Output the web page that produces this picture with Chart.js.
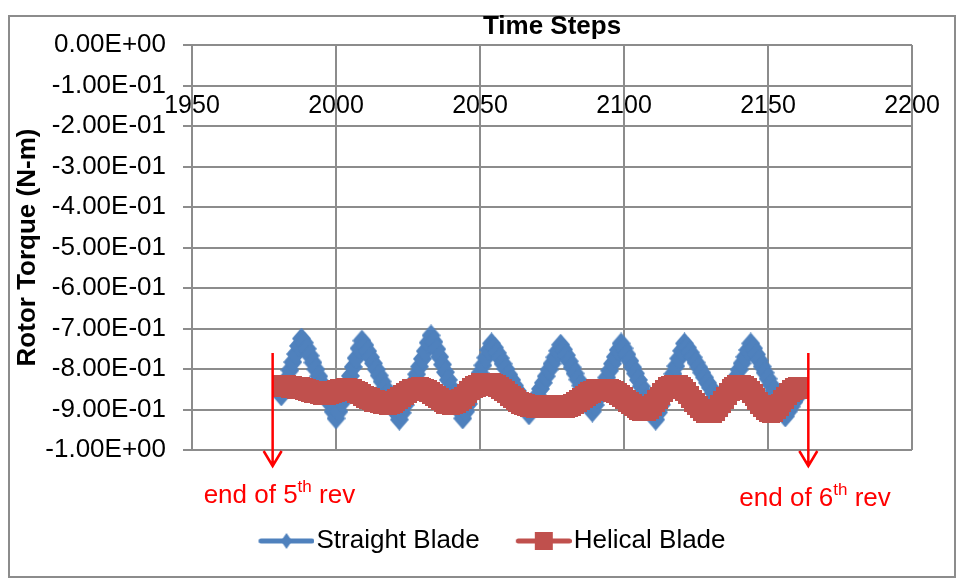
<!DOCTYPE html>
<html>
<head>
<meta charset="utf-8">
<title>Rotor Torque</title>
<script src="https://cdn.jsdelivr.net/npm/chart.js@4.4.1/dist/chart.umd.min.js"></script>
<style>
  html, body { margin: 0; padding: 0; background: #fff; }
  #wrap { position: relative; width: 963px; height: 580px; }
  #frame { position: absolute; left: 8px; top: 15px; width: 948px; height: 563px; border: 2px solid #8c8c8c; box-sizing: border-box; }
  #torqueChart { position: absolute; left: 0; top: 0; }
</style>
</head>
<body>
<div id="wrap">
  <div id="frame"></div>
  <canvas id="torqueChart" width="963" height="580"></canvas>
</div>
<script>
// time step of the first sample in both series
const firstStep = 1981;

// rotor torque per time step (N-m)
const straightBlade = [
  -0.865, -0.845, -0.824, -0.803, -0.783, -0.763, -0.743, -0.725, -0.735, -0.750,
  -0.767, -0.784, -0.801, -0.818, -0.835, -0.852, -0.869, -0.886, -0.905, -0.922,
  -0.905, -0.883, -0.861, -0.839, -0.817, -0.795, -0.773, -0.749, -0.730, -0.741,
  -0.756, -0.771, -0.786, -0.801, -0.816, -0.831, -0.846, -0.861, -0.876, -0.892,
  -0.909, -0.925, -0.908, -0.889, -0.870, -0.851, -0.832, -0.813, -0.794, -0.775,
  -0.756, -0.735, -0.717, -0.733, -0.751, -0.770, -0.789, -0.808, -0.827, -0.846,
  -0.865, -0.884, -0.904, -0.922, -0.905, -0.886, -0.867, -0.848, -0.829, -0.810,
  -0.791, -0.772, -0.753, -0.737, -0.747, -0.760, -0.773, -0.787, -0.800, -0.814,
  -0.827, -0.841, -0.854, -0.868, -0.882, -0.897, -0.912, -0.897, -0.881, -0.865,
  -0.849, -0.834, -0.818, -0.802, -0.787, -0.771, -0.755, -0.740, -0.752, -0.766,
  -0.781, -0.796, -0.811, -0.826, -0.841, -0.856, -0.872, -0.889, -0.905, -0.889,
  -0.872, -0.855, -0.838, -0.821, -0.804, -0.787, -0.770, -0.753, -0.737, -0.749,
  -0.764, -0.780, -0.796, -0.811, -0.827, -0.843, -0.859, -0.875, -0.891, -0.908,
  -0.925, -0.907, -0.888, -0.869, -0.850, -0.831, -0.812, -0.793, -0.774, -0.755,
  -0.737, -0.747, -0.759, -0.771, -0.784, -0.796, -0.809, -0.821, -0.834, -0.846,
  -0.859, -0.872, -0.886, -0.900, -0.884, -0.868, -0.851, -0.835, -0.819, -0.802,
  -0.786, -0.770, -0.753, -0.737, -0.749, -0.764, -0.779, -0.794, -0.809, -0.824,
  -0.839, -0.854, -0.869, -0.885, -0.901, -0.917, -0.905, -0.893, -0.881, -0.870,
  -0.860
];

const helicalBlade = [
  -0.842, -0.842, -0.843, -0.844, -0.845, -0.846, -0.847, -0.848, -0.850, -0.852,
  -0.854, -0.856, -0.858, -0.860, -0.861, -0.862, -0.862, -0.860, -0.857, -0.854,
  -0.852, -0.851, -0.850, -0.850, -0.851, -0.853, -0.856, -0.860, -0.864, -0.868,
  -0.872, -0.875, -0.878, -0.880, -0.882, -0.884, -0.885, -0.886, -0.885, -0.882,
  -0.877, -0.871, -0.866, -0.861, -0.857, -0.853, -0.851, -0.849, -0.848, -0.849,
  -0.851, -0.855, -0.860, -0.865, -0.870, -0.875, -0.879, -0.883, -0.885, -0.886,
  -0.885, -0.882, -0.877, -0.871, -0.864, -0.857, -0.850, -0.845, -0.841, -0.838,
  -0.837, -0.836, -0.836, -0.837, -0.839, -0.842, -0.846, -0.851, -0.857, -0.863,
  -0.869, -0.875, -0.880, -0.884, -0.887, -0.889, -0.891, -0.892, -0.893, -0.894,
  -0.894, -0.893, -0.892, -0.891, -0.891, -0.892, -0.893, -0.894, -0.894, -0.893,
  -0.891, -0.888, -0.884, -0.879, -0.874, -0.869, -0.864, -0.860, -0.856, -0.853,
  -0.852, -0.851, -0.851, -0.852, -0.853, -0.855, -0.858, -0.862, -0.867, -0.872,
  -0.878, -0.884, -0.890, -0.895, -0.898, -0.900, -0.901, -0.900, -0.896, -0.889,
  -0.880, -0.871, -0.862, -0.854, -0.848, -0.844, -0.842, -0.841, -0.842, -0.846,
  -0.852, -0.860, -0.869, -0.878, -0.887, -0.895, -0.901, -0.905, -0.907, -0.907,
  -0.905, -0.900, -0.892, -0.882, -0.872, -0.862, -0.853, -0.846, -0.842, -0.841,
  -0.842, -0.845, -0.850, -0.857, -0.865, -0.874, -0.883, -0.891, -0.898, -0.903,
  -0.905, -0.903, -0.897, -0.889, -0.880, -0.871, -0.862, -0.855, -0.850, -0.847,
  -0.846
];

const timeTicks = [1950, 2000, 2050, 2100, 2150, 2200];
const torqueTicks = [-1, -0.9, -0.8, -0.7, -0.6, -0.5, -0.4, -0.3, -0.2, -0.1, 0];

// revolution boundaries marked with arrows below the plot
const revEnds = [1978, 2164];
const revNumbers = ['5', '6'];

const family = "'Liberation Sans', Arial, sans-serif";
const gridColor = '#8c8c8c';
const blue = '#4f81bd';
const red = '#c0504d';

Chart.defaults.font.family = family;
Chart.defaults.color = '#000';

// Excel style scientific labels: -1.00E-01
function sciLabel(v) {
  const parts = Number(v).toExponential(2).split('e');
  const exp = parseInt(parts[1], 10);
  return parts[0] + 'E' + (exp < 0 ? '-' : '+') + String(Math.abs(exp)).padStart(2, '0');
}

function toPoints(values) {
  return values.map((v, i) => ({ x: firstStep + i, y: v }));
}

function drawShape(c, shape, cx, cy, w, h) {
  c.beginPath();
  if (shape === 'diamond') {
    c.moveTo(cx, cy - h / 2);
    c.lineTo(cx + w / 2, cy);
    c.lineTo(cx, cy + h / 2);
    c.lineTo(cx - w / 2, cy);
    c.closePath();
  } else {
    c.rect(cx - w / 2, cy - h / 2, w, h);
  }
  c.fill();
}

// marker image used for every data point
function markerImage(shape, w, h, color) {
  const cv = document.createElement('canvas');
  cv.width = w;
  cv.height = h;
  const c = cv.getContext('2d');
  c.fillStyle = color;
  drawShape(c, shape, w / 2, h / 2, w, h);
  return cv;
}

// legend swatch: a short line with the marker in the middle
function legendSwatch(shape, w, h, color) {
  const cv = document.createElement('canvas');
  cv.width = 67;
  cv.height = 24;
  const c = cv.getContext('2d');
  c.strokeStyle = color;
  c.lineWidth = 5;
  c.lineCap = 'round';
  c.beginPath();
  c.moveTo(13.5, 12);
  c.lineTo(64.5, 12);
  c.stroke();
  c.fillStyle = color;
  drawShape(c, shape, 39, 12, w, h);
  return cv;
}

const revAnnotations = {
  id: 'revAnnotations',
  afterDraw(chart) {
    const { ctx } = chart;
    const xScale = chart.scales.x;
    ctx.save();
    ctx.strokeStyle = '#ff0000';
    ctx.fillStyle = '#ff0000';
    ctx.lineWidth = 2.5;
    revEnds.forEach((step, i) => {
      const px = xScale.getPixelForValue(step);
      ctx.beginPath();
      ctx.moveTo(px, 353);
      ctx.lineTo(px, 466);
      ctx.moveTo(px - 9, 451);
      ctx.lineTo(px, 466);
      ctx.lineTo(px + 9, 451);
      ctx.stroke();

      let tx = px - 69;
      const base = 503 + i * 3;
      ctx.textBaseline = 'alphabetic';
      ctx.textAlign = 'left';
      ctx.font = '26px ' + family;
      const head = 'end of ' + revNumbers[i];
      ctx.fillText(head, tx, base);
      tx += ctx.measureText(head).width;
      ctx.font = '17px ' + family;
      ctx.fillText('th', tx, base - 11);
      tx += ctx.measureText('th').width;
      ctx.font = '26px ' + family;
      ctx.fillText(' rev', tx, base);
    });
    ctx.restore();
  }
};

const datasets = [
  {
    label: 'Straight Blade',
    data: toPoints(straightBlade),
    borderColor: blue,
    backgroundColor: blue,
    borderWidth: 4,
    pointStyle: markerImage('diamond', 19, 22, blue),
    pointRadius: 11,
    legendSwatch: legendSwatch('diamond', 11, 16, blue),
    order: 1
  },
  {
    label: 'Helical Blade',
    data: toPoints(helicalBlade),
    borderColor: red,
    backgroundColor: red,
    borderWidth: 4,
    pointStyle: markerImage('rect', 18, 22, red),
    pointRadius: 11,
    legendSwatch: legendSwatch('rect', 18, 18, red),
    order: 0
  }
];

new Chart(document.getElementById('torqueChart'), {
  type: 'line',
  data: { datasets },
  plugins: [revAnnotations],
  options: {
    responsive: false,
    animation: false,
    events: [],
    layout: { padding: { left: 21, right: 0, top: 0, bottom: 16 } },
    elements: { line: { tension: 0 } },
    scales: {
      x: {
        type: 'linear',
        position: 'top',
        min: 1950,
        max: 2200,
        // labels sit inside the plot, just under the axis line
        afterFit: s => { s.height = 45; s.paddingLeft = 0; s.paddingRight = 0; },
        afterBuildTicks: s => { s.ticks = timeTicks.map(v => ({ value: v })); },
        grid: { color: gridColor, lineWidth: 2, drawTicks: false },
        border: { display: false },
        ticks: { mirror: true, padding: 46, maxRotation: 0, autoSkip: false, font: { size: 25 }, callback: v => String(v) },
        title: {
          display: true,
          text: 'Time Steps',
          font: { size: 26, weight: 'bold' },
          padding: { top: 11, bottom: 0 }
        }
      },
      y: {
        type: 'linear',
        position: 'left',
        min: -1,
        max: 0,
        afterFit: s => { s.width = 171; },
        afterBuildTicks: s => { s.ticks = torqueTicks.map(v => ({ value: v })); },
        grid: { color: gridColor, lineWidth: 2, tickLength: 9 },
        border: { display: true, color: gridColor, width: 2 },
        ticks: { padding: 17, font: { size: 26 }, callback: sciLabel },
        title: {
          display: true,
          text: 'Rotor Torque (N-m)',
          font: { size: 26, weight: 'bold' },
          padding: { top: -9, bottom: 0 }
        }
      },
      yRight: {
        type: 'linear',
        position: 'right',
        afterFit: s => { s.width = 51; },
        grid: { display: false },
        border: { display: false },
        ticks: { display: false }
      },
      xBottom: {
        type: 'linear',
        position: 'bottom',
        afterFit: s => { s.height = 42; },
        grid: { display: false },
        border: { display: false },
        ticks: { display: false }
      }
    },
    plugins: {
      tooltip: { enabled: false },
      legend: {
        position: 'bottom',
        labels: {
          usePointStyle: true,
          pointStyleWidth: 45,
          padding: 36,
          font: { size: 26 },
          generateLabels: chart => chart.data.datasets.map((ds, i) => ({
            text: ds.label,
            pointStyle: ds.legendSwatch,
            fillStyle: ds.backgroundColor,
            strokeStyle: ds.borderColor,
            lineWidth: 0,
            hidden: false,
            datasetIndex: i
          }))
        }
      }
    }
  }
});
</script>
</body>
</html>
